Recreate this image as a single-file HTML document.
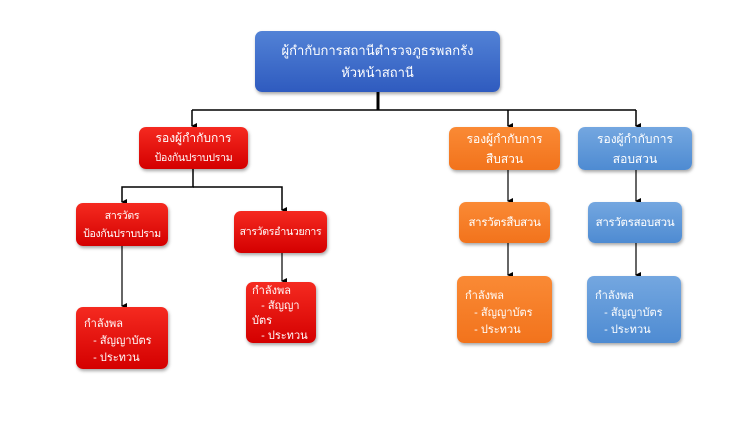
<!DOCTYPE html>
<html><head><meta charset="utf-8"><style>
body{margin:0;width:742px;height:443px;background:#fff;position:relative;overflow:hidden;font-family:"Liberation Sans","DejaVu Sans",sans-serif}
.b{position:absolute;color:#fff;font-size:12px;border-radius:7px;box-shadow:1px 2px 3px rgba(0,0,0,.35);box-sizing:border-box;white-space:nowrap}
.c{display:flex;flex-direction:column;justify-content:center;align-items:center;text-align:center;line-height:20px}
.r{background:linear-gradient(#f52a20,#d40000)}
.o{background:linear-gradient(#fa8a35,#f2731c)}
.u{background:linear-gradient(#74a7e0,#4e8bd2)}
.l{padding:6px 8px;line-height:17px;font-size:11px}
.s{font-size:10.5px;letter-spacing:-0.3px}
</style></head><body>
<svg width="742" height="443" style="position:absolute;left:0;top:0">
<defs><marker id="a" markerWidth="6" markerHeight="6" refX="3" refY="5" orient="auto" markerUnits="userSpaceOnUse"><path d="M0,0 L6,0 L3,6z" fill="#000"/></marker></defs>
<g stroke="#000" fill="none">
<line x1="378" y1="92" x2="378" y2="110" stroke-width="3"/>
<polyline points="192,110 636,110" stroke-width="1.5"/>
<line x1="192" y1="110" x2="192" y2="126" stroke-width="1.5" marker-end="url(#a)"/>
<line x1="508" y1="110" x2="508" y2="126" stroke-width="1.5" marker-end="url(#a)"/>
<line x1="636" y1="110" x2="636" y2="126" stroke-width="1.5" marker-end="url(#a)"/>
<polyline points="193,169 193,187 122,187 122,202" stroke-width="1.5" marker-end="url(#a)"/>
<polyline points="193,187 282,187 282,210" stroke-width="1.5" marker-end="url(#a)"/>
<line x1="122" y1="246" x2="122" y2="306" stroke-width="1.2" marker-end="url(#a)"/>
<line x1="282" y1="253" x2="282" y2="281" stroke-width="1.2" marker-end="url(#a)"/>
<line x1="508" y1="170" x2="508" y2="201" stroke-width="1.2" marker-end="url(#a)"/>
<line x1="508" y1="243" x2="508" y2="275" stroke-width="1.2" marker-end="url(#a)"/>
<line x1="636" y1="170" x2="636" y2="201" stroke-width="1.2" marker-end="url(#a)"/>
<line x1="636" y1="243" x2="636" y2="275" stroke-width="1.2" marker-end="url(#a)"/>
</g></svg>
<div class="b c" style="left:255px;top:31px;width:245px;height:61px;background:linear-gradient(#5282d6,#2f5bbf);font-size:13px;line-height:22px"><div>ผู้กำกับการสถานีตำรวจภูธรพลกรัง</div><div>หัวหน้าสถานี</div></div>
<div class="b c r" style="left:139px;top:127px;width:109px;height:42px"><div>รองผู้กำกับการ</div><div class="s">ป้องกันปราบปราม</div></div>
<div class="b c o" style="left:449px;top:127px;width:111px;height:43px"><div>รองผู้กำกับการ</div><div>สืบสวน</div></div>
<div class="b c u" style="left:578px;top:127px;width:114px;height:43px"><div>รองผู้กำกับการ</div><div>สอบสวน</div></div>
<div class="b c r s" style="left:76px;top:203px;width:92px;height:43px;line-height:18px"><div>สารวัตร</div><div>ป้องกันปราบปราม</div></div>
<div class="b c r s" style="left:234px;top:211px;width:93px;height:42px"><div>สารวัตรอำนวยการ</div></div>
<div class="b c o" style="left:459px;top:202px;width:91px;height:41px"><div class="s" style="font-size:11.5px">สารวัตรสืบสวน</div></div>
<div class="b c u" style="left:588px;top:202px;width:94px;height:41px"><div class="s" style="font-size:11.5px">สารวัตรสอบสวน</div></div>
<div class="b r l" style="left:76px;top:307px;width:92px;height:62px;padding-top:9px">กำลังพล<br>&nbsp;&nbsp;&nbsp;- สัญญาบัตร<br>&nbsp;&nbsp;&nbsp;- ประทวน</div>
<div class="b r l" style="left:246px;top:282px;width:70px;height:61px;padding:2px 6px;line-height:15px">กำลังพล<br>&nbsp;&nbsp;&nbsp;- สัญญา<br>บัตร<br>&nbsp;&nbsp;&nbsp;- ประทวน</div>
<div class="b o l" style="left:457px;top:276px;width:95px;height:67px;padding-top:12px">กำลังพล<br>&nbsp;&nbsp;&nbsp;- สัญญาบัตร<br>&nbsp;&nbsp;&nbsp;- ประทวน</div>
<div class="b u l" style="left:587px;top:276px;width:94px;height:67px;padding-top:12px">กำลังพล<br>&nbsp;&nbsp;&nbsp;- สัญญาบัตร<br>&nbsp;&nbsp;&nbsp;- ประทวน</div>
</body></html>
